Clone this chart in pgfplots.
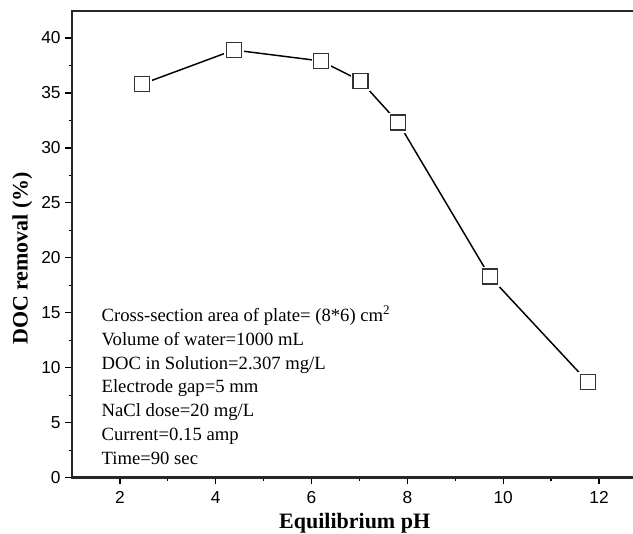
\documentclass[border=0pt]{standalone}
\usepackage{fontspec}
\setmainfont{Liberation Serif}
\newfontfamily\arial{Liberation Sans}
\usepackage{pgfplots}
\pgfplotsset{compat=1.18}

\pgfplotstableread{
ph   doc
2.46 35.8
4.38 38.9
6.20 37.9
7.02 36.1
7.81 32.3
9.72 18.3
11.77 8.7
}\docdata

\begin{document}
\begin{tikzpicture}
\useasboundingbox (-54pt,-42pt) rectangle (420.75pt,358.25pt);
\begin{axis}[
  scale only axis,
  width=424pt, height=350pt,
  xmin=1, xmax=12.8, ymin=0, ymax=42.45,
  xtick={2,4,...,12}, ytick={0,5,...,40},
  minor x tick num=1, minor y tick num=1,
  xtick pos=bottom, ytick pos=left,
  tick align=outside,
  major tick length=5pt, minor tick length=2.5pt,
  tick style={black, line width=1pt},
  axis line style={black!85, line width=1.8pt},
  ticklabel style={font=\arial\fontsize{13}{15}\selectfont},
  xticklabel style={yshift=-2pt},
  /pgf/number format/assume math mode=true,
  xlabel={\bfseries Equilibrium pH},
  ylabel={\bfseries DOC removal (\%)},
  label style={font=\fontsize{16.5}{18}\selectfont},
  xlabel style={yshift=0pt},
  ylabel style={at={(ticklabel cs:0.47)}},
  clip=false,
]
\addplot[black, line width=1.1pt] table[x=ph, y=doc] {\docdata};
\addplot[only marks, mark=square*, mark size=7pt, white,
  mark options={draw=white, fill=white}] table[x=ph, y=doc] {\docdata};
\addplot[only marks, mark=square*, mark size=5.6pt,
  mark options={draw=black!80, fill=white, line width=1pt}] table[x=ph, y=doc] {\docdata};

\node[anchor=base west, font=\fontsize{14}{16}\selectfont] at (axis cs:1.52,14.21) {Cross-section area of plate= (8*6) cm\textsuperscript{2}};
\node[anchor=base west, font=\fontsize{14}{16}\selectfont] at (axis cs:1.52,12.05) {Volume of water=1000 mL};
\node[anchor=base west, font=\fontsize{14}{16}\selectfont] at (axis cs:1.52,9.88) {DOC in Solution=2.307 mg/L};
\node[anchor=base west, font=\fontsize{14}{16}\selectfont] at (axis cs:1.52,7.72) {Electrode gap=5 mm};
\node[anchor=base west, font=\fontsize{14}{16}\selectfont] at (axis cs:1.52,5.56) {NaCl dose=20 mg/L};
\node[anchor=base west, font=\fontsize{14}{16}\selectfont] at (axis cs:1.52,3.39) {Current=0.15 amp};
\node[anchor=base west, font=\fontsize{14}{16}\selectfont] at (axis cs:1.52,1.23) {Time=90 sec};
\end{axis}
\end{tikzpicture}
\end{document}
